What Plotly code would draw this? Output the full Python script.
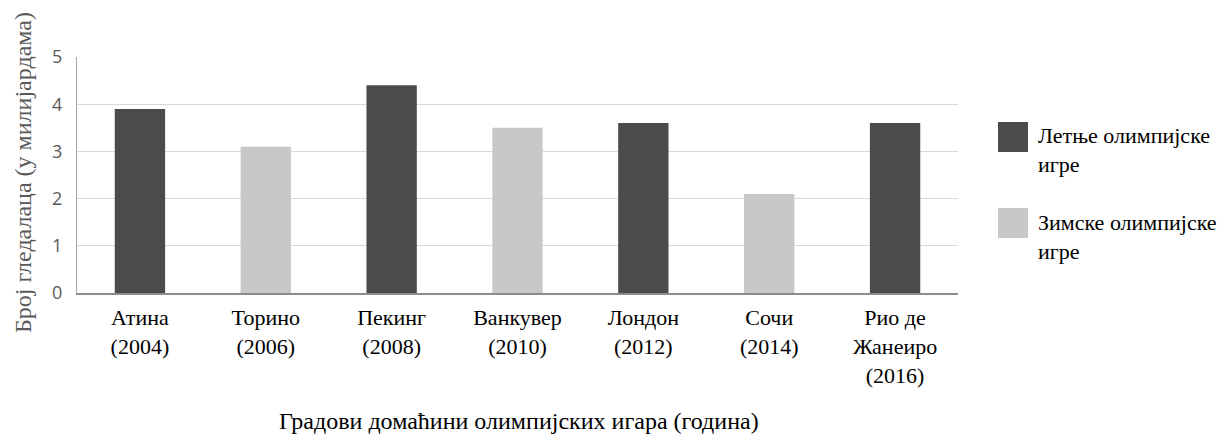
import plotly.graph_objects as go

categories = ["Атина<br>(2004)", "Торино<br>(2006)", "Пекинг<br>(2008)", "Ванкувер<br>(2010)",
              "Лондон<br>(2012)", "Сочи<br>(2014)", "Рио де<br>Жанеиро<br>(2016)"]
summer = [3.9, None, 4.4, None, 3.6, None, 3.6]
winter = [None, 3.1, None, 3.5, None, 2.1, None]
series_names = ["Летње олимпијске<br>игре", "Зимске олимпијске<br>игре"]
colors = ["#4b4b4b", "#c8c8c8"]
y_ticks = [0, 1, 2, 3, 4, 5]

W, H = 1229, 437
L, R, T, B = 77, 271, 57, 144

fig = go.Figure()
for vals, name, col in zip([summer, winter], series_names, colors):
    fig.add_trace(go.Bar(x=categories, y=vals, name=name, marker_color=col,
                         marker_line_width=0, width=0.4, showlegend=False))

serif = "Liberation Serif"
fig.update_layout(
    width=W, height=H, barmode="overlay",
    margin=dict(l=L, r=R, t=T, b=B, autoexpand=False),
    plot_bgcolor="white", paper_bgcolor="white",
    xaxis=dict(showline=True, linecolor="#8c8c8c", linewidth=2, ticks="",
               tickfont=dict(family=serif, size=22, color="#000000"), ticklabelstandoff=4),
    yaxis=dict(range=[0, 5], tickvals=y_ticks, showgrid=True, gridcolor="#d9d9d9", gridwidth=1,
               showline=True, linecolor="#a6a6a6", linewidth=1, zeroline=False,
               tickfont=dict(family="Open Sans", size=18, color="#595959"),
               ticks="", ticklabelstandoff=10),
)

def px(xp):
    return (xp - L) / (W - L - R)
def py(yp):
    return (H - B - yp) / (H - T - B)

# axis titles
fig.add_annotation(text="Број гледалаца (у милијардама)", xref="paper", yref="paper",
                   x=px(23), y=py(173),
                   textangle=-90, showarrow=False, xanchor="center", yanchor="middle",
                   font=dict(family=serif, size=24, color="#595959"))
fig.add_annotation(text="Градови домаћини олимпијских игара (година)", xref="paper", yref="paper",
                   x=px(519), y=py(421),
                   showarrow=False, xanchor="center", yanchor="middle",
                   font=dict(family=serif, size=24, color="#000000"))

# legend
legend_tops = [122, 208]
legend_text_mid = [150, 237]
for top, mid, name, col in zip(legend_tops, legend_text_mid, series_names, colors):
    fig.add_shape(type="rect", xref="paper", yref="paper",
                  x0=px(998), x1=px(1028), y0=py(top), y1=py(top + 30),
                  fillcolor=col, line_width=0)
    fig.add_annotation(text=name, xref="paper", yref="paper", x=px(1036), y=py(mid),
                       xanchor="left", yanchor="middle", align="left", showarrow=False,
                       font=dict(family=serif, size=22, color="#000000"))

fig.write_html("out.html")
